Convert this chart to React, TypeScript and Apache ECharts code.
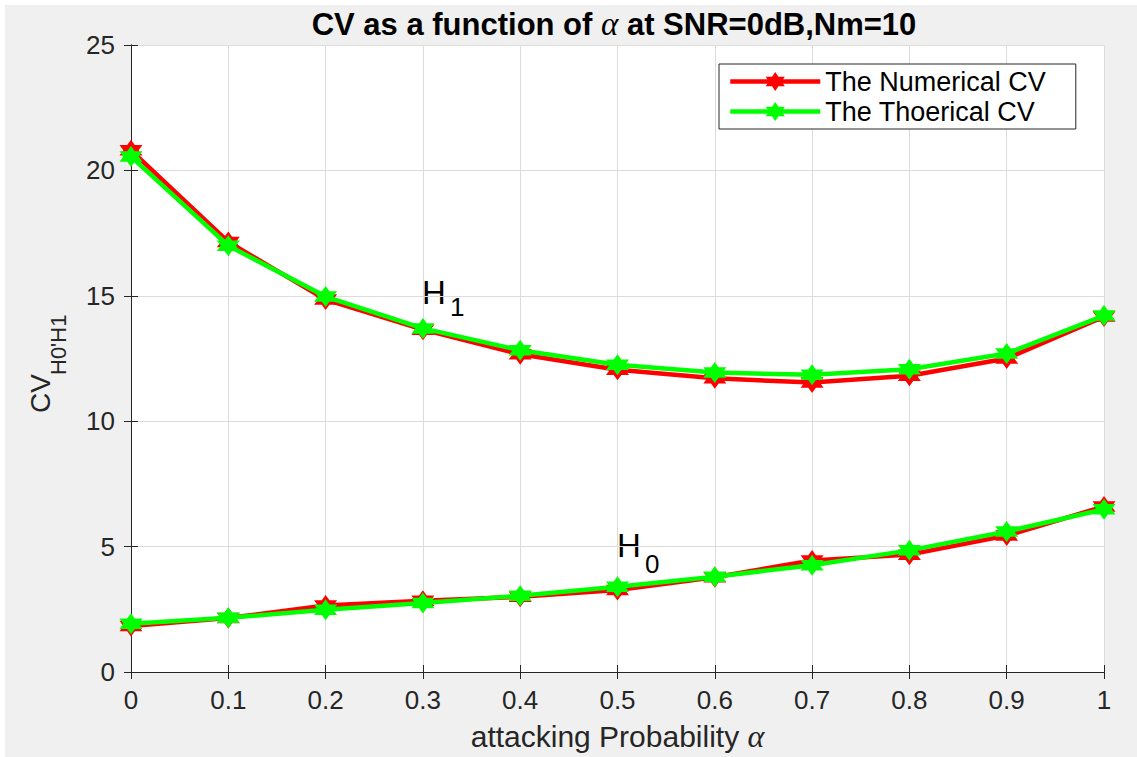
import React, { useEffect, useRef } from 'react';
import * as echarts from 'echarts';

const alphaValues = [0, 0.1, 0.2, 0.3, 0.4, 0.5, 0.6, 0.7, 0.8, 0.9, 1];
const numericalH1 = [20.8, 17.15, 14.85, 13.65, 12.67, 12.05, 11.71, 11.54, 11.81, 12.5, 14.17];
const theoreticalH1 = [20.55, 17.0, 14.97, 13.7, 12.83, 12.25, 11.94, 11.85, 12.07, 12.7, 14.21];
const numericalH0 = [1.83, 2.15, 2.65, 2.84, 3.0, 3.27, 3.78, 4.45, 4.68, 5.44, 6.6];
const theoreticalH0 = [1.92, 2.16, 2.48, 2.75, 3.04, 3.4, 3.8, 4.26, 4.85, 5.6, 6.49];
const seriesNames = ['The Numerical CV', 'The Thoerical CV'];

const FONT = "'Liberation Sans', Arial, sans-serif";
const AXIS_COLOR = '#262626';
const HEXAGRAM =
  'path://M50 0 L64.43 25 L93.3 25 L78.87 50 L93.3 75 L64.43 75 L50 100 L35.57 75 L6.7 75 L21.13 50 L6.7 25 L35.57 25 Z';

const pairs = (xs: number[], ys: number[]) => xs.map((x, i) => [x, ys[i]]);

function makeSeries(name: string, values: number[], color: string, z: number) {
  return {
    name,
    type: 'line',
    data: pairs(alphaValues, values),
    xAxisIndex: 0,
    yAxisIndex: 0,
    symbol: HEXAGRAM,
    symbolSize: [23, 21],
    symbolKeepAspect: false,
    showAllSymbol: true,
    lineStyle: { color, width: 4.5 },
    itemStyle: { color, borderWidth: 0 },
    z,
  };
}

export default function App() {
  const ref = useRef<HTMLDivElement>(null);
  useEffect(() => {
    document.body.style.margin = '0';
    const chart = echarts.init(ref.current!, null, { renderer: 'svg' });
    const option: any = {
      animation: false,
      backgroundColor: '#f0f0f0',
      grid: {
        left: 131,
        top: 45,
        right: 33,
        bottom: 79,
        show: true,
        backgroundColor: '#ffffff',
        borderWidth: 0,
      },
      legend: {
        data: seriesNames,
        orient: 'vertical',
        left: 719,
        top: 64,
        padding: [4, 30, 4, 9],
        itemGap: 3,
        itemWidth: 90,
        itemHeight: 24,
        lineStyle: { width: 4.5 },
        backgroundColor: '#ffffff',
        borderColor: AXIS_COLOR,
        borderWidth: 1,
        borderRadius: 0,
        textStyle: { fontFamily: FONT, fontSize: 27, color: '#000' },
      },
      xAxis: [
        {
          type: 'value',
          min: 0,
          max: 1,
          interval: 0.1,
          position: 'bottom',
          name: '{t|attacking Probability }{a|α}',
          nameLocation: 'middle',
          nameGap: 48,
          nameTextStyle: {
            rich: {
              t: { fontFamily: FONT, fontSize: 30, color: AXIS_COLOR },
              a: { fontFamily: "'Liberation Serif', 'DejaVu Serif', serif", fontStyle: 'italic', fontSize: 32, color: AXIS_COLOR },
            },
          },
          axisLine: { show: true, lineStyle: { color: AXIS_COLOR, width: 1 } },
          axisTick: { show: true, inside: true, length: 7, lineStyle: { color: AXIS_COLOR } },
          axisLabel: {
            margin: 15,
            fontFamily: FONT,
            fontSize: 26,
            color: AXIS_COLOR,
            formatter: (v: number) => String(+v.toFixed(1)),
          },
          splitLine: { show: true, lineStyle: { color: '#dcdcdc', width: 1 } },
        },
        {
          type: 'value',
          min: 0,
          max: 1,
          interval: 0.1,
          position: 'top',
          axisLine: { show: true, lineStyle: { color: AXIS_COLOR, width: 1 } },
          axisTick: { show: true, inside: true, length: 7, lineStyle: { color: AXIS_COLOR } },
          axisLabel: { show: false },
          splitLine: { show: false },
        },
      ],
      yAxis: [
        {
          type: 'value',
          min: 0,
          max: 25,
          interval: 5,
          position: 'left',
          axisLine: { show: true, lineStyle: { color: AXIS_COLOR, width: 1 } },
          axisTick: { show: true, inside: true, length: 7, lineStyle: { color: AXIS_COLOR } },
          axisLabel: { margin: 16, fontFamily: FONT, fontSize: 26, color: AXIS_COLOR },
          splitLine: { show: true, lineStyle: { color: '#dcdcdc', width: 1 } },
        },
        {
          type: 'value',
          min: 0,
          max: 25,
          interval: 5,
          position: 'right',
          axisLine: { show: true, lineStyle: { color: AXIS_COLOR, width: 1 } },
          axisTick: { show: true, inside: true, length: 7, lineStyle: { color: AXIS_COLOR } },
          axisLabel: { show: false },
          splitLine: { show: false },
        },
      ],
      series: [
        makeSeries(seriesNames[0], numericalH1, '#ff0000', 2),
        makeSeries(seriesNames[0], numericalH0, '#ff0000', 2),
        makeSeries(seriesNames[1], theoreticalH1, '#00ff00', 3),
        makeSeries(seriesNames[1], theoreticalH0, '#00ff00', 3),
      ],
      graphic: [
        { type: 'rect', left: 0, top: 0, shape: { width: 1137, height: 5 }, style: { fill: '#ffffff' }, silent: true },
        { type: 'rect', left: 0, top: 0, shape: { width: 5, height: 757 }, style: { fill: '#ffffff' }, silent: true },
        {
          type: 'text',
          x: 614,
          y: 24,
          style: {
            text: '{b|CV as a function of }{a|α}{b| at SNR=0dB,Nm=10}',
            align: 'center',
            verticalAlign: 'middle',
            rich: {
              b: { fontFamily: FONT, fontWeight: 'bold', fontSize: 31, fill: '#000' },
              a: { fontFamily: "'Liberation Serif', 'DejaVu Serif', serif", fontStyle: 'italic', fontSize: 33, fill: '#000' },
            },
          },
        },
        {
          type: 'group',
          x: 28,
          y: 413,
          rotation: Math.PI / 2,
          children: [
            {
              type: 'text',
              x: 0,
              y: 12,
              style: { text: 'CV', fontFamily: FONT, fontSize: 28, fill: AXIS_COLOR, align: 'left', verticalAlign: 'middle' },
            },
            {
              type: 'text',
              x: 38,
              y: 30,
              style: { text: "H0'H1", fontFamily: FONT, fontSize: 22, fill: AXIS_COLOR, align: 'left', verticalAlign: 'middle' },
            },
          ],
        },
        { type: 'text', x: 422, y: 292, style: { text: 'H', fontFamily: FONT, fontSize: 33, fill: '#000', align: 'left', verticalAlign: 'middle' } },
        { type: 'text', x: 450, y: 307, style: { text: '1', fontFamily: FONT, fontSize: 26, fill: '#000', align: 'left', verticalAlign: 'middle' } },
        { type: 'text', x: 617, y: 545, style: { text: 'H', fontFamily: FONT, fontSize: 33, fill: '#000', align: 'left', verticalAlign: 'middle' } },
        { type: 'text', x: 645, y: 564, style: { text: '0', fontFamily: FONT, fontSize: 26, fill: '#000', align: 'left', verticalAlign: 'middle' } },
      ],
    };
    chart.setOption(option);
    return () => chart.dispose();
  }, []);
  return <div ref={ref} style={{ width: 1137, height: 757 }} />;
}
